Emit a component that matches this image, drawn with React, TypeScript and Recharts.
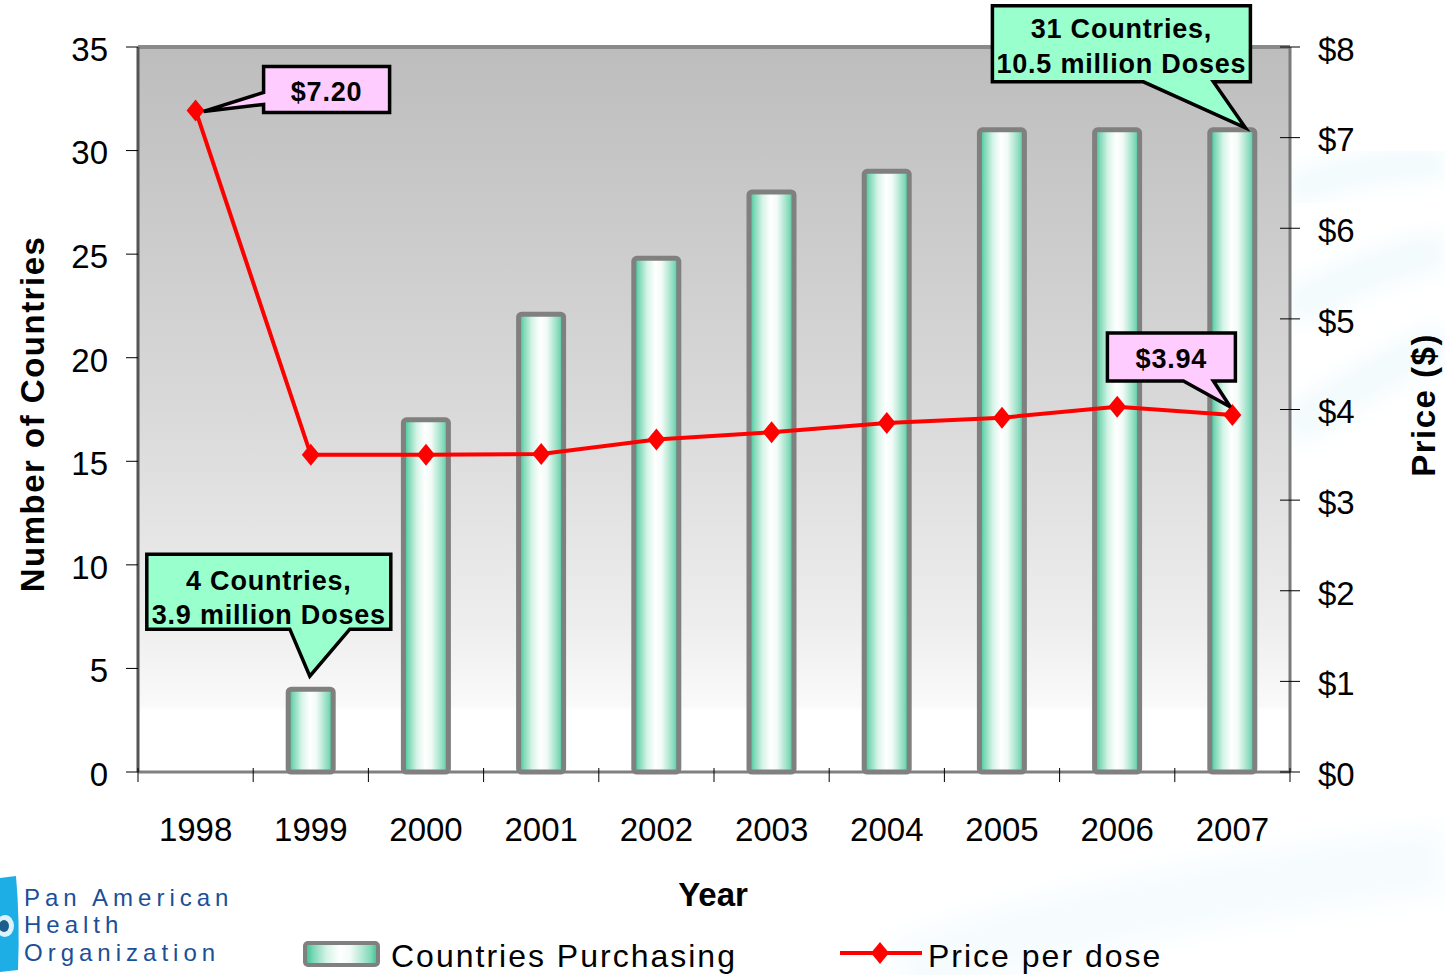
import React from 'react';
import {
  ComposedChart,
  Bar,
  Line,
  XAxis,
  YAxis,
  CartesianGrid,
  ReferenceLine,
  ReferenceDot,
} from 'recharts';

// ---------- data ----------
const years = ['1998', '1999', '2000', '2001', '2002', '2003', '2004', '2005', '2006', '2007'];
const countriesPurchasing: (number | null)[] = [null, 4, 17, 22.1, 24.8, 28, 29, 31, 31, 31];
const pricePerDose = [7.3, 3.5, 3.5, 3.51, 3.67, 3.75, 3.85, 3.91, 4.03, 3.94];
const leftTicks = [0, 5, 10, 15, 20, 25, 30, 35];
const rightTicks = [0, 1, 2, 3, 4, 5, 6, 7, 8];
const barSeriesName = 'Countries Purchasing';
const lineSeriesName = 'Price per dose';
const leftAxisTitle = 'Number of Countries';
const rightAxisTitle = 'Price ($)';
const xAxisTitle = 'Year';
const logoLines = ['Pan American', 'Health', 'Organization'];

const calloutStartText = ['4 Countries,', '3.9 million Doses'];
const calloutEndText = ['31 Countries,', '10.5 million Doses'];
const priceStartLabel = '$7.20';
const priceEndLabel = '$3.94';

const data = years.map((year, i) => ({
  year,
  countries: countriesPurchasing[i],
  price: pricePerDose[i],
}));

// ---------- layout ----------
const W = 1445;
const H = 975;
const PLOT_LEFT = 138;
const PLOT_RIGHT = 1290;
const PLOT_TOP = 47;
const PLOT_BOTTOM = 772;
const LEFT_AXIS_W = 60;
const RIGHT_AXIS_W = 80;
const X_AXIS_H = 60;
const BAND = (PLOT_RIGHT - PLOT_LEFT) / years.length;
const FONT = '"Liberation Sans", Arial, Helvetica, sans-serif';

const XTick = (props: any) => {
  const { x, y, payload } = props;
  const half = BAND / 2;
  const isLast = payload.value === years[years.length - 1];
  return (
    <g>
      <line x1={x - half} x2={x - half} y1={y - 4} y2={y + 10} stroke="#000" strokeWidth={1} />
      {isLast && (
        <line x1={x + half} x2={x + half} y1={y - 4} y2={y + 10} stroke="#000" strokeWidth={1} />
      )}
      <text x={x} y={y + 69} textAnchor="middle" fontSize={33} fontFamily={FONT} fill="#000">
        {payload.value}
      </text>
    </g>
  );
};

const LeftTick = (props: any) => {
  const { x, y, payload } = props;
  return (
    <g>
      <line x1={x - 12} x2={x} y1={y} y2={y} stroke="#000" strokeWidth={1} />
      <text x={x - 30} y={y} dy="0.42em" textAnchor="end" fontSize={33} fontFamily={FONT} fill="#000">
        {payload.value}
      </text>
    </g>
  );
};

const RightTick = (props: any) => {
  const { x, y, payload } = props;
  return (
    <g>
      <line x1={x - 10} x2={x + 10} y1={y} y2={y} stroke="#000" strokeWidth={1} />
      <text x={x + 28} y={y} dy="0.42em" textAnchor="start" fontSize={33} fontFamily={FONT} fill="#000">
        {`$${payload.value}`}
      </text>
    </g>
  );
};

const Diamond = (props: any) => {
  const { cx, cy, index } = props;
  if (cx == null || cy == null) return <g key={index} />;
  return (
    <path
      key={index}
      d={`M${cx},${cy - 11} L${cx + 9},${cy} L${cx},${cy + 11} L${cx - 9},${cy} Z`}
      fill="#ff0000"
    />
  );
};

type CalloutSpec = {
  l: number;
  t: number;
  r: number;
  b: number;
  side: 'left' | 'bottom';
  w1: number;
  w2: number;
  tipX: number;
  tipY: number;
  fill: string;
  lines: string[];
  lineY: number[];
  fontSize: number;
};

const makeCallout = (spec: CalloutSpec) => (p: any) => {
  const { cx, cy } = p;
  const l = cx + spec.l;
  const r = cx + spec.r;
  const t = cy + spec.t;
  const b = cy + spec.b;
  const tx = cx + spec.tipX;
  const ty = cy + spec.tipY;
  let d = '';
  if (spec.side === 'left') {
    d = `M${l},${t} H${r} V${b} H${l} V${cy + spec.w2} L${tx},${ty} L${l},${cy + spec.w1} Z`;
  } else {
    d = `M${l},${t} H${r} V${b} H${cx + spec.w2} L${tx},${ty} L${cx + spec.w1},${b} H${l} Z`;
  }
  const mx = (l + r) / 2;
  return (
    <g>
      <path d={d} fill={spec.fill} stroke="#000" strokeWidth={3.5} strokeLinejoin="miter" />
      {spec.lines.map((ln, i) => (
        <text
          key={i}
          x={mx}
          y={cy + spec.lineY[i]}
          dy="0.36em"
          textAnchor="middle"
          fontSize={spec.fontSize}
          fontWeight="bold"
          fontFamily={FONT}
          letterSpacing={0.8}
          fill="#000"
        >
          {ln}
        </text>
      ))}
    </g>
  );
};

const calloutPriceStart = makeCallout({
  l: 68, r: 194, t: -44, b: 2, side: 'left', w1: -18, w2: -6, tipX: 8, tipY: 1,
  fill: '#ffccff', lines: [priceStartLabel], lineY: [-19], fontSize: 27,
});
const calloutCountriesEnd = makeCallout({
  l: -240, r: 18, t: -124, b: -48, side: 'bottom', w1: -89, w2: -19, tipX: 13, tipY: -2,
  fill: '#99ffcc', lines: calloutEndText, lineY: [-102, -67], fontSize: 27,
});
const calloutCountriesStart = makeCallout({
  l: -164, r: 80, t: -135, b: -60, side: 'bottom', w1: -21, w2: 39, tipX: -1, tipY: -13,
  fill: '#99ffcc', lines: calloutStartText, lineY: [-109, -75], fontSize: 27,
});
const calloutPriceEnd = makeCallout({
  l: -125, r: 3, t: -82, b: -34, side: 'bottom', w1: -49, w2: -19, tipX: -2, tipY: -8,
  fill: '#ffccff', lines: [priceEndLabel], lineY: [-57], fontSize: 27,
});

const barGradientStops = (
  <>
    <stop offset="0%" stopColor="#2fc38f" />
    <stop offset="12%" stopColor="#7fd9b8" />
    <stop offset="30%" stopColor="#d6f4e8" />
    <stop offset="48%" stopColor="#ffffff" />
    <stop offset="62%" stopColor="#f2fbf7" />
    <stop offset="78%" stopColor="#b4e8d4" />
    <stop offset="90%" stopColor="#7fd9b8" />
    <stop offset="100%" stopColor="#2fc38f" />
  </>
);

export default function App() {
  const lastYear = years[years.length - 1];
  return (
    <div
      style={{
        position: 'absolute',
        left: 0,
        top: 0,
        width: W,
        height: H,
        background: '#ffffff',
        overflow: 'hidden',
        fontFamily: FONT,
      }}
    >
      {/* faint watermark swooshes */}
      <svg width={W} height={H} style={{ position: 'absolute', left: 0, top: 0 }}>
        <defs>
          <filter id="blurW" x="-20%" y="-50%" width="140%" height="200%">
            <feGaussianBlur stdDeviation="12" />
          </filter>
        </defs>
        <path d="M1290,190 Q1380,160 1445,165" stroke="#eef9fd" strokeWidth={26} fill="none" filter="url(#blurW)" />
        <path d="M1290,310 Q1380,260 1445,250" stroke="#f1fafd" strokeWidth={36} fill="none" filter="url(#blurW)" />
        <path d="M1290,430 Q1360,380 1445,340" stroke="#f1fafd" strokeWidth={36} fill="none" filter="url(#blurW)" />
        <path d="M900,975 Q1100,900 1445,860" stroke="#f6fcfe" strokeWidth={70} fill="none" filter="url(#blurW)" />
      </svg>

      <div style={{ position: 'absolute', left: 0, top: 0 }}>
        <ComposedChart
          width={W}
          height={H}
          data={data}
          margin={{
            top: PLOT_TOP,
            right: W - PLOT_RIGHT - RIGHT_AXIS_W,
            bottom: H - PLOT_BOTTOM - X_AXIS_H,
            left: PLOT_LEFT - LEFT_AXIS_W,
          }}
          barCategoryGap={0}
        >
          <defs>
            <linearGradient id="plotBg" x1="0" y1="0" x2="0" y2="1">
              <stop offset="0%" stopColor="#bdbdbd" />
              <stop offset="50%" stopColor="#d9d9d9" />
              <stop offset="80%" stopColor="#eeeeee" />
              <stop offset="91%" stopColor="#fafafa" />
              <stop offset="91.5%" stopColor="#ffffff" />
              <stop offset="100%" stopColor="#ffffff" />
            </linearGradient>
            <linearGradient id="barGrad" x1="0" y1="0" x2="1" y2="0">
              {barGradientStops}
            </linearGradient>
          </defs>
          <CartesianGrid horizontal={false} vertical={false} fill="url(#plotBg)" fillOpacity={1} />
          <XAxis
            dataKey="year"
            height={X_AXIS_H}
            interval={0}
            tickLine={false}
            tickSize={0}
            tickMargin={0}
            axisLine={{ stroke: '#808080', strokeWidth: 3 }}
            tick={<XTick />}
          />
          <YAxis
            yAxisId="left"
            orientation="left"
            width={LEFT_AXIS_W}
            domain={[0, 35]}
            ticks={leftTicks}
            interval={0}
            tickLine={false}
            tickSize={0}
            tickMargin={0}
            axisLine={{ stroke: '#555555', strokeWidth: 3 }}
            tick={<LeftTick />}
          />
          <YAxis
            yAxisId="right"
            orientation="right"
            width={RIGHT_AXIS_W}
            domain={[0, 8]}
            ticks={rightTicks}
            interval={0}
            tickLine={false}
            tickSize={0}
            tickMargin={0}
            axisLine={{ stroke: '#7a7a7a', strokeWidth: 3 }}
            tick={<RightTick />}
          />
          <ReferenceLine yAxisId="left" y={35} stroke="#8a8a8a" strokeWidth={4} />
          <Bar
            yAxisId="left"
            dataKey="countries"
            name={barSeriesName}
            barSize={45}
            fill="url(#barGrad)"
            stroke="#808080"
            strokeWidth={5}
            radius={3}
            isAnimationActive={false}
          />
          <Line
            yAxisId="right"
            dataKey="price"
            name={lineSeriesName}
            type="linear"
            stroke="#ff0000"
            strokeWidth={4}
            dot={(p: any) => <Diamond key={p.index} {...p} />}
            activeDot={false}
            isAnimationActive={false}
          />
          <ReferenceDot yAxisId="right" x={years[0]} y={pricePerDose[0]} r={1} shape={calloutPriceStart} />
          <ReferenceDot
            yAxisId="right"
            x={lastYear}
            y={pricePerDose[pricePerDose.length - 1]}
            r={1}
            shape={calloutPriceEnd}
          />
          <ReferenceDot yAxisId="left" x={years[1]} y={countriesPurchasing[1] as number} r={1} shape={calloutCountriesStart} />
          <ReferenceDot
            yAxisId="left"
            x={lastYear}
            y={countriesPurchasing[countriesPurchasing.length - 1] as number}
            r={1}
            shape={calloutCountriesEnd}
          />
        </ComposedChart>
      </div>

      {/* titles, legend, logo */}
      <svg
        width={W}
        height={H}
        style={{ position: 'absolute', left: 0, top: 0, pointerEvents: 'none' }}
      >
        <defs>
          <linearGradient id="legGrad" x1="0" y1="0" x2="1" y2="0">
            {barGradientStops}
          </linearGradient>
        </defs>
        <text
          transform="translate(44, 414) rotate(-90)"
          textAnchor="middle"
          fontSize={33}
          fontWeight="bold"
          fontFamily={FONT}
          letterSpacing={1.5}
          fill="#000"
        >
          {leftAxisTitle}
        </text>
        <text
          transform="translate(1435, 405) rotate(-90)"
          textAnchor="middle"
          fontSize={33}
          fontWeight="bold"
          fontFamily={FONT}
          letterSpacing={1.5}
          fill="#000"
        >
          {rightAxisTitle}
        </text>
        <text x={713} y={906} textAnchor="middle" fontSize={33} fontWeight="bold" fontFamily={FONT} fill="#000">
          {xAxisTitle}
        </text>

        {/* legend */}
        <rect x={305} y={943} width={73} height={22} rx={3} fill="url(#legGrad)" stroke="#808080" strokeWidth={4} />
        <text x={391} y={967} fontSize={32} fontFamily={FONT} letterSpacing={2} fill="#000">
          {barSeriesName}
        </text>
        <line x1={840} x2={922} y1={953} y2={953} stroke="#ff0000" strokeWidth={4} />
        <path d="M880,942 L889,953 L880,964 L871,953 Z" fill="#ff0000" />
        <text x={928} y={967} fontSize={32} fontFamily={FONT} letterSpacing={2} fill="#000">
          {lineSeriesName}
        </text>

        {/* logo */}
        <path d="M0,878 L16,876 Q20,920 18,970 L0,972 Z" fill="#1eaee6" />
        <ellipse cx={5} cy={926} rx={9} ry={11} fill="#ffffff" opacity={0.85} />
        <ellipse cx={4} cy={926} rx={5} ry={6} fill="#1b5e8c" />
        {logoLines.map((ln, i) => (
          <text
            key={i}
            x={24}
            y={[906, 933, 961][i]}
            fontSize={24}
            fontFamily={FONT}
            letterSpacing={5}
            fill="#1b4f98"
          >
            {ln}
          </text>
        ))}
      </svg>
    </div>
  );
}
